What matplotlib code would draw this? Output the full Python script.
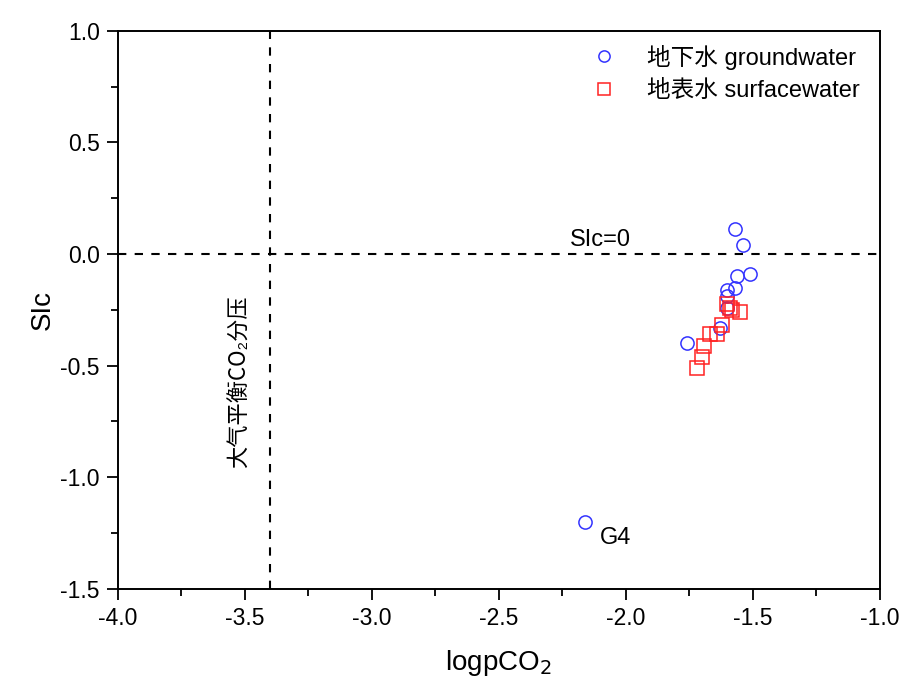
import matplotlib.pyplot as plt
from matplotlib.ticker import MultipleLocator

plt.rcParams['font.family'] = ['Liberation Sans', 'Noto Sans CJK SC', 'DejaVu Sans']

# groundwater samples (logpCO2, SIc)
gw_x = [-1.57, -1.54, -1.51, -1.56, -1.57, -1.60, -1.60, -1.60, -1.63, -1.76, -2.16]
gw_y = [0.11, 0.04, -0.09, -0.10, -0.15, -0.16, -0.19, -0.24, -0.33, -0.40, -1.20]

# surface water samples
sw_x = [-1.60, -1.59, -1.58, -1.55, -1.62, -1.64, -1.67, -1.69, -1.70, -1.72]
sw_y = [-0.225, -0.24, -0.25, -0.26, -0.32, -0.36, -0.36, -0.41, -0.46, -0.51]

atm_pco2 = -3.4

fig = plt.figure(figsize=(9.06, 6.84), dpi=100)
ax = fig.add_axes([0.130, 0.139, 0.841, 0.816])

ax.plot(gw_x, gw_y, 'o', ls='none', ms=9.5, mfc='none', mec='#3333ff', mew=1.1,
        label='地下水 groundwater')
ax.plot(sw_x, sw_y, 's', ls='none', ms=9.5, mfc='none', mec='#ff2222', mew=1.1,
        label='地表水 surfacewater')

ax.axhline(0, color='black', ls=(0, (4, 4)), lw=1.5, zorder=0)
ax.axvline(atm_pco2, color='black', ls=(0, (4, 4)), lw=1.5, zorder=0)

ax.text(-2.10, 0.015, 'SIc=0', fontsize=17, ha='center', va='bottom')
ax.text(-2.10, -1.27, 'G4', fontsize=17, ha='left', va='center')
ax.text(-3.52, -0.57, '大气平衡CO₂分压', fontsize=16, rotation=90,
        ha='center', va='center',
        family=['Noto Sans CJK SC', 'Liberation Sans', 'DejaVu Sans'])

ax.set_xlim(-4.0, -1.0)
ax.set_ylim(-1.5, 1.0)
ax.xaxis.set_major_locator(MultipleLocator(0.5))
ax.xaxis.set_minor_locator(MultipleLocator(0.25))
ax.yaxis.set_major_locator(MultipleLocator(0.5))
ax.yaxis.set_minor_locator(MultipleLocator(0.25))
ax.xaxis.set_major_formatter(lambda v, p: f'{v:.1f}')
ax.yaxis.set_major_formatter(lambda v, p: f'{v:.1f}')
ax.tick_params(which='major', direction='out', length=8, width=1.3, labelsize=16.5, pad=5)
ax.tick_params(which='minor', direction='out', length=5, width=1.3)
for s in ax.spines.values():
    s.set_linewidth(1.4)

ax.set_xlabel('logpCO$_2$', fontsize=20, labelpad=13)
ax.set_ylabel('SIc', fontsize=20, labelpad=3)

ax.legend(loc='upper right', frameon=False, fontsize=17, handletextpad=1.3,
          borderaxespad=0.3, labelspacing=0.45, handlelength=1.0,
          markerscale=0.85, bbox_to_anchor=(0.995, 1.005))

fig.savefig('out.png', dpi=100)
